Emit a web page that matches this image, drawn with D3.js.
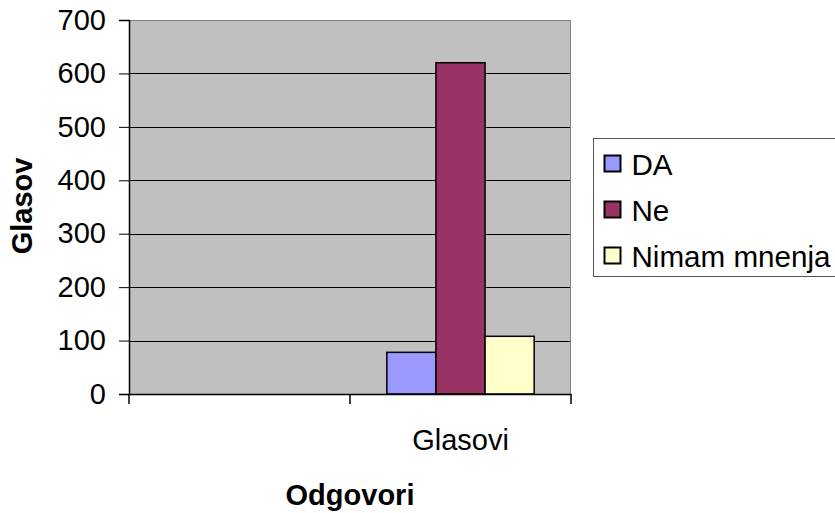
<!DOCTYPE html>
<html>
<head>
<meta charset="utf-8">
<script src="https://cdn.jsdelivr.net/npm/d3@7"></script>
<style>
  body { margin: 0; background: #fff; }
  svg { display: block; font-family: "Liberation Sans", Arial, sans-serif; }
</style>
</head>
<body>
<div class="chart"></div>
<script>
// chart data
var categories = ["", "Glasovi"];
var seriesNames = ["DA", "Ne", "Nimam mnenja"];
var seriesColors = ["#9999FF", "#993366", "#FFFFCC"];
var glasoviValues = [78, 620, 108];
var yTicks = [0, 100, 200, 300, 400, 500, 600, 700];

var svgWidth = 835;
var svgHeight = 513;

var margin = { top: 20, bottom: 119, right: 264, left: 129 };
var height = svgHeight - margin.top - margin.bottom;
var width = svgWidth - margin.left - margin.right;

var svg = d3.select(".chart")
  .append("svg")
  .attr("width", svgWidth)
  .attr("height", svgHeight);

var chartGroup = svg.append("g")
  .attr("transform", `translate(${margin.left}, ${margin.top})`);

var yLinearScale = d3.scaleLinear()
  .domain([0, 700])
  .range([height, 0]);

var xBand = d3.scaleBand()
  .domain(categories)
  .range([0, width]);

var xInner = d3.scaleBand()
  .domain(seriesNames)
  .range([0, xBand.bandwidth()])
  .paddingInner(0)
  .paddingOuter(0.75);

// plot background
chartGroup.append("rect")
  .attr("width", width)
  .attr("height", height)
  .attr("fill", "#C0C0C0");

// gridlines
chartGroup.selectAll(".grid")
  .data(yTicks.slice(1, -1))
  .enter()
  .append("line")
  .attr("x1", 0)
  .attr("x2", width)
  .attr("y1", d => Math.round(yLinearScale(d)) + 0.5)
  .attr("y2", d => Math.round(yLinearScale(d)) + 0.5)
  .attr("stroke", "#000")
  .attr("stroke-width", 1);

// top and right borders
chartGroup.append("path")
  .attr("d", `M0,0.5H${width - 0.5}V${height}`)
  .attr("fill", "none")
  .attr("stroke", "#808080")
  .attr("stroke-width", 1);

// bars
var barData = seriesNames.map((s, i) => ({ series: s, value: glasoviValues[i], color: seriesColors[i] }));
chartGroup.selectAll(".bar")
  .data(barData)
  .enter()
  .append("rect")
  .attr("x", d => xBand("Glasovi") + xInner(d.series))
  .attr("y", d => yLinearScale(d.value))
  .attr("width", xInner.bandwidth())
  .attr("height", d => height - yLinearScale(d.value))
  .attr("fill", d => d.color)
  .attr("stroke", "#000")
  .attr("stroke-width", 1.5);

// y axis
var yAxis = d3.axisLeft(yLinearScale)
  .tickValues(yTicks)
  .tickSize(10)
  .tickPadding(13);
var yG = chartGroup.append("g").call(yAxis);
yG.select(".domain").attr("stroke", "#000").attr("stroke-width", 1.5);
yG.selectAll("text").attr("font-size", 29).attr("fill", "#000").attr("font-family", "Liberation Sans, Arial, sans-serif");

// x axis
var xAxis = d3.axisBottom(xBand).tickSize(0).tickFormat("");
var xG = chartGroup.append("g")
  .attr("transform", `translate(0, ${height})`)
  .call(xAxis);
xG.select(".domain").attr("stroke", "#000").attr("stroke-width", 1.5);

// category boundary ticks
var boundaries = categories.map(c => xBand(c)).concat([width]);
xG.selectAll(".bound")
  .data(boundaries)
  .enter()
  .append("line")
  .attr("x1", d => d)
  .attr("x2", d => d)
  .attr("y1", 0)
  .attr("y2", 10)
  .attr("stroke", "#000")
  .attr("stroke-width", 1.5);

// category labels
chartGroup.selectAll(".catLabel")
  .data(categories)
  .enter()
  .append("text")
  .attr("x", d => xBand(d) + xBand.bandwidth() / 2)
  .attr("y", height + 56)
  .attr("text-anchor", "middle")
  .attr("font-size", 29)
  .text(d => d);

// axis titles
chartGroup.append("text")
  .attr("transform", `translate(${width / 2}, ${height + 111})`)
  .attr("text-anchor", "middle")
  .attr("font-size", 29)
  .attr("font-weight", "bold")
  .text("Odgovori");

svg.append("text")
  .attr("transform", "translate(32, 206) rotate(-90)")
  .attr("text-anchor", "middle")
  .attr("font-size", 29)
  .attr("font-weight", "bold")
  .text("Glasov");

// legend
var legend = svg.append("g").attr("transform", "translate(593.5, 138.5)");
legend.append("rect")
  .attr("width", 260)
  .attr("height", 138)
  .attr("fill", "#fff")
  .attr("stroke", "#555")
  .attr("stroke-width", 1);

var items = legend.selectAll(".item")
  .data(barData)
  .enter()
  .append("g")
  .attr("transform", (d, i) => `translate(11, ${25 + i * 46})`);

items.append("rect")
  .attr("x", 0)
  .attr("y", -8)
  .attr("width", 16)
  .attr("height", 16)
  .attr("fill", d => d.color)
  .attr("stroke", "#000")
  .attr("stroke-width", 2);

items.append("text")
  .attr("x", 27)
  .attr("y", 11)
  .attr("font-size", 29.6)
  .text(d => d.series);
</script>
</body>
</html>
